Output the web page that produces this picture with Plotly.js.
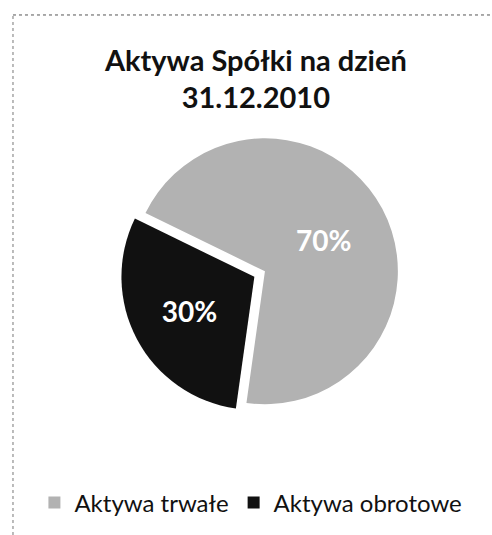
<!DOCTYPE html>
<html>
<head>
<meta charset="utf-8">
<script src="https://cdn.plot.ly/plotly-3.0.1.min.js"></script>
<style>html,body{margin:0;padding:0;background:#fff;}#chart{width:492px;height:535px;}</style>
</head>
<body>
<div id="chart"></div>
<script>
const titleText = 'Aktywa Spółki na dzień<br>31.12.2010';
const labels = ['Aktywa trwałe', 'Aktywa obrotowe'];
const values = [70, 30];
const colors = ['#b2b2b2', '#111111'];
const pulls = [0, 0.09];

const trace = {
  type: 'pie',
  labels: labels,
  values: values,
  sort: false,
  direction: 'clockwise',
  rotation: -64,
  pull: pulls,
  marker: {colors: colors, line: {width: 0}},
  textinfo: 'percent',
  texttemplate: '%{percent:.0%}',
  textposition: 'inside',
  insidetextorientation: 'horizontal',
  textfont: {family: 'Lato, sans-serif', size: 28, color: '#ffffff', weight: 'bold'},
  hoverinfo: 'label+percent',
  domain: {x: [0.244, 0.833], y: [0.222, 0.764]}
};

const layout = {
  width: 492,
  height: 535,
  margin: {l: 0, r: 0, t: 0, b: 0},
  paper_bgcolor: '#ffffff',
  font: {family: 'Lato, sans-serif', color: '#111111'},
  title: {
    text: titleText,
    x: 0.52, xanchor: 'center', xref: 'paper',
    y: 0.868, yanchor: 'middle', yref: 'paper',
    font: {family: 'Lato, sans-serif', size: 29, color: '#111111', weight: 'bold'}
  },
  showlegend: true,
  legend: {
    orientation: 'h',
    x: 0.51, xanchor: 'center',
    y: 0.06, yanchor: 'middle',
    font: {family: 'Lato, sans-serif', size: 24, color: '#111111'},
    itemwidth: 30
  },
  shapes: [
    {type: 'line', xref: 'paper', yref: 'paper', x0: 0.0264, x1: 1, y0: 0.972, y1: 0.972, line: {color: '#555555', width: 1, dash: 'dot'}},
    {type: 'line', xref: 'paper', yref: 'paper', x0: 0.0264, x1: 0.0264, y0: 0, y1: 0.972, line: {color: '#777777', width: 1, dash: 'dot'}}
  ]
};

Plotly.newPlot('chart', [trace], layout, {displayModeBar: false, staticPlot: true});
</script>
</body>
</html>
